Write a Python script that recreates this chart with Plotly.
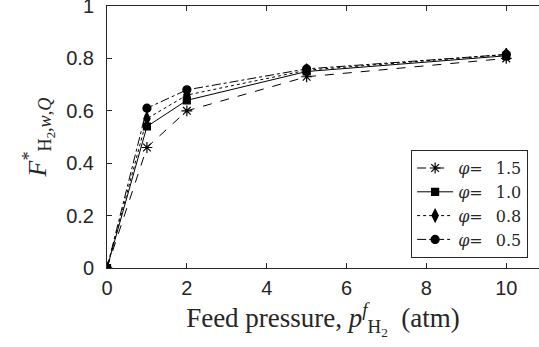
import plotly.graph_objects as go

pressure = [0, 1, 2, 5, 10]
f_phi15 = [0, 0.46, 0.60, 0.73, 0.80]
f_phi10 = [0, 0.54, 0.64, 0.75, 0.81]
f_phi08 = [0, 0.57, 0.66, 0.755, 0.815]
f_phi05 = [0, 0.61, 0.68, 0.76, 0.815]
series_names = ["<i>φ</i>=\u2002 1.5", "<i>φ</i>=\u2002 1.0", "<i>φ</i>=\u2002 0.8", "<i>φ</i>=\u2002 0.5"]
x_ticks = [0, 2, 4, 6, 8, 10]
y_ticks = [0, 0.2, 0.4, 0.6, 0.8, 1]

series = [f_phi15, f_phi10, f_phi08, f_phi05]
dashes = ["dash", "solid", "dot", "dashdot"]
symbols = ["asterisk-open", "square", "diamond-tall", "circle"]
sizes = [9, 7, 9, 8]

fig = go.Figure()
for vals, name, d, s, sz in zip(series, series_names, dashes, symbols, sizes):
    fig.add_trace(go.Scatter(
        x=pressure, y=vals, name=name, mode="lines+markers",
        line=dict(color="black", width=1, dash=d),
        marker=dict(symbol=s, size=sz, color="black",
                    line=dict(color="black", width=1.2)),
    ))

axis_color = "#262626"
fig.update_layout(
    width=539, height=347,
    margin=dict(l=107, r=0, t=6, b=79),
    plot_bgcolor="white", paper_bgcolor="white",
    font=dict(family="Liberation Sans, Arial, sans-serif", size=20, color=axis_color),
    showlegend=True,
    legend=dict(
        x=0.704, y=0.45, xanchor="left", yanchor="top",
        bgcolor="white", bordercolor=axis_color, borderwidth=1,
        font=dict(family="DejaVu Serif, serif", size=16, color=axis_color),
        tracegroupgap=0, itemwidth=36,
    ),
    xaxis=dict(
        range=[0, 10.82], tickvals=x_ticks, ticks="inside", ticklen=5,
        tickcolor=axis_color, showline=True, linecolor=axis_color, linewidth=1,
        mirror="ticks", showgrid=False, zeroline=False, automargin=False,
        ticklabeloverflow="allow", ticklabelstandoff=2,
        title=dict(text="Feed pressure, <i>p</i><sup><i>f</i></sup><sub>H<sub>2</sub></sub>  (atm)",
                   font=dict(family="Liberation Serif, serif", size=27, color=axis_color),
                   standoff=2),
    ),
    yaxis=dict(
        range=[0, 1], tickvals=y_ticks, ticks="inside", ticklen=5,
        tickcolor=axis_color, showline=True, linecolor=axis_color, linewidth=1,
        mirror=False, showgrid=False, zeroline=False, automargin=False,
        ticklabeloverflow="allow", ticklabelstandoff=8,
        title=dict(text="<i>F</i><sup>*</sup><sub>H<sub>2</sub>,<i>w</i>,<i>Q</i></sub>",
                   font=dict(family="Liberation Serif, serif", size=26, color=axis_color),
                   standoff=12),
    ),
)

fig.write_html("out.html", config={"displayModeBar": False},
               post_script="document.body.style.margin='0px';")
